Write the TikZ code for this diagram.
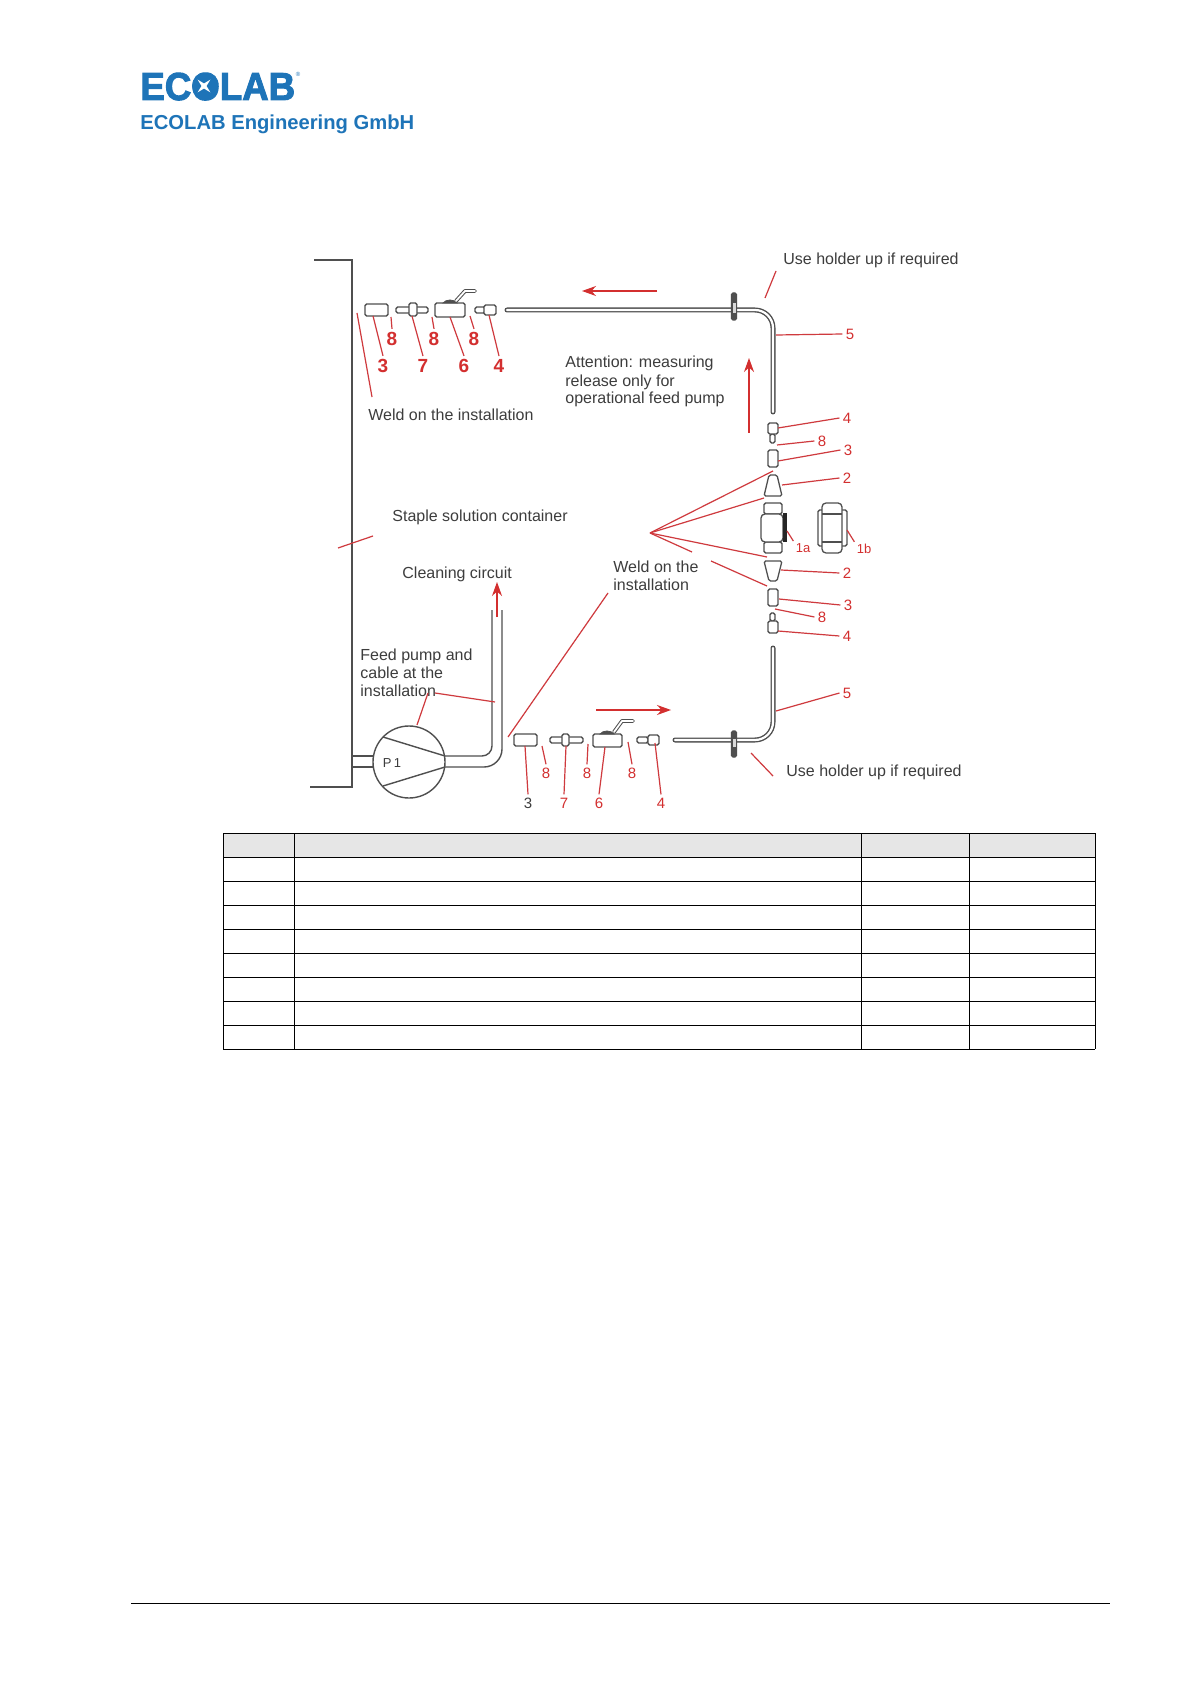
\documentclass[tikz,border=0pt]{standalone}
\usepackage{fontspec}
\setmainfont{Liberation Sans}
\newfontfamily\logofont[FakeBold=2.5]{Liberation Sans Bold}
\usepackage{amsmath}
\usetikzlibrary{positioning,arrows.meta}
\definecolor{logoblue}{HTML}{1E74B8}
\definecolor{markred}{HTML}{D32F2F}
\definecolor{leadred}{HTML}{CF3A3E}
\definecolor{partgray}{HTML}{4F4F4F}
\definecolor{textgray}{HTML}{3D3D3D}
\definecolor{headgray}{HTML}{E6E6E6}

\begin{document}
\begin{tikzpicture}[x=0.5pt,y=-0.5pt,font=\fontsize{8}{9}\selectfont]
\tikzstyle{plain line}=[draw=partgray,line width=0.7pt]
\tikzstyle{part}=[draw=partgray,line width=0.65pt,rounded corners=0.8pt,fill=white]
\tikzstyle{pipe}=[draw=partgray,line width=0.7pt,double=white,double distance=1.1pt,line cap=round]
\tikzstyle{handle}=[draw=partgray,line width=0.5pt,double=white,double distance=0.9pt,line cap=round,line join=round]
\tikzstyle{leader}=[draw=leadred,line width=0.6pt]
\tikzstyle{flow}=[draw=markred,line width=0.7pt,-{Stealth[length=7pt,width=5pt]}]
\tikzstyle{note}=[text=textgray,inner sep=0,anchor=base west,align=left]
\tikzstyle{big num}=[text=markred,font=\fontsize{9.5}{10}\selectfont\bfseries,inner sep=1.5pt]
\tikzstyle{small num}=[text=markred,font=\fontsize{7.5}{8}\selectfont,inner sep=1.5pt]
\tikzstyle{tiny num}=[text=markred,font=\fontsize{6.5}{7}\selectfont,inner sep=1pt]
\useasboundingbox[fill=white] (0,0) rectangle (1190,1684);

% logo
\fill[logoblue] (204,86) circle (12);
\node[text=logoblue,inner sep=0,anchor=base west,font=\fontsize{19.5}{20}\logofont] (logo) at (140,100) {\scalebox{.94}[1]{ECOLAB}};
\fill[white] (204,86) +(45:9) -- +(90:2.5) -- +(135:9) -- +(180:2.5) -- +(225:9) -- +(270:2.5) -- +(315:9) -- +(0:2.5) -- cycle;
\node[text=logoblue,inner sep=0,font=\fontsize{3}{3}\selectfont] (logoreg) at (298,74) {\textregistered};
\node[text=logoblue,inner sep=0,anchor=base west,font=\fontsize{10.1}{11}\selectfont\bfseries] (firm) at (140,130) {ECOLAB Engineering GmbH};

% container
\draw[plain line] (314,260) -- (352,260) -- (352,787) -- (310,787);

% top line
\draw[pipe,rounded corners=9pt] (507,310) -- (773,310) -- (773,412);
\draw[part,fill=partgray] (731.5,293) rectangle (736.5,320);
\fill[white!85!black] (733,303) rectangle (735.5,313);
\draw[part] (365,304) rectangle (388,316);
\draw[part] (396,307) rectangle (428,313);
\draw[part] (409,303) rectangle (417,316);
\draw[part] (435,303) rectangle (465,317);
\draw[partgray,fill=partgray,line width=0.4pt] (443,303) .. controls (446,299) and (454,299) .. (457,303) -- cycle;
\draw[handle] (456,301) -- (465,291) -- (475,291);
\draw[part] (475,307) rectangle (485,313);
\draw[part] (484,305) rectangle (496,315);

% right column
\draw[part] (770,434) rectangle (775,443);
\draw[part] (768,423) rectangle (778,434);
\draw[part] (768,450) rectangle (778,467);
\draw[part] (769,475) -- (777,475) -- (782,496) -- (764,496) -- cycle;
\draw[part] (764,503) rectangle (782,514);
\draw[part] (764,542) rectangle (782,553);
\draw[part,rounded corners=2pt] (761,514) rectangle (783,542);
\fill[black!85] (783,513) rectangle (787,542);
\draw[part] (818,510) rectangle (847,546);
\draw[part,rounded corners=2pt] (822,503) rectangle (842,553);
\draw[part] (822,514) -- (842,514) (822,542) -- (842,542);
\draw[part] (764,561) -- (782,561) -- (777,581) -- (769,581) -- cycle;
\draw[part] (768,589) rectangle (778,606);
\draw[part] (770,613) rectangle (775,621);
\draw[part] (768,621) rectangle (778,633);

% bottom line
\draw[pipe,rounded corners=9pt] (773,648) -- (773,740) -- (675,740);
\draw[part,fill=partgray] (731.5,731) rectangle (736.5,757);
\fill[white!85!black] (733,739) rectangle (735.5,747);
\draw[part] (514,734) rectangle (537,746);
\draw[part] (550,737) rectangle (583,743);
\draw[part] (562,734) rectangle (569,746);
\draw[part] (593,734) rectangle (622,747);
\draw[partgray,fill=partgray,line width=0.4pt] (600,734) .. controls (603,730) and (611,730) .. (614,734) -- cycle;
\draw[handle] (614,732) -- (622,721) -- (633,721);
\draw[part] (637,737) rectangle (648,743);
\draw[part] (648,735) rectangle (659,745);

% pump
\draw[plain line] (352,756) -- (373,756) (352,767) -- (373,767);
\draw[plain line,rounded corners=5pt] (445,756) -- (492,756) -- (492,610);
\draw[plain line,rounded corners=9pt] (445,767) -- (502,767) -- (502,610);
\node[circle,draw=partgray,line width=0.7pt,fill=white,minimum size=36pt,inner sep=0] (pump) at (409,762) {};
\draw[plain line] (383,737) -- (445,756) (383,786) -- (445,767);
\node[text=textgray,inner sep=0,font=\fontsize{6.5}{7}\selectfont] (pumplabel) at (392,763) {P\,1};

% texts
\node[note] (holdertop) at (783,265) {Use holder up if required};
\node[note] (holderbot) at (786,776) {Use holder up if required};
\node[note] (weldtop) at (368,421) {Weld on the installation};
\node[note] (attention) at (565,404) {Attention: measuring\\release only for\\operational feed pump};
\node[note] (staple) at (392,521) {Staple solution container};
\node[note] (cleaning) at (402,578) {Cleaning circuit};
\node[note] (feed) at (360,696) {Feed pump and\\cable at the\\installation};
\node[note] (weldbot) at (613,590) {Weld on the\\installation};

% numbers top row
\node[big num] (t3) at (383,366) {3};
\node[big num] (t8a) at (392,339) {8};
\node[big num] (t7) at (423,366) {7};
\node[big num] (t8b) at (434,339) {8};
\node[big num] (t6) at (464,366) {6};
\node[big num] (t8c) at (474,339) {8};
\node[big num] (t4) at (499,366) {4};

% numbers right column
\node[small num] (r5) at (850,334) {5};
\node[small num] (r4) at (847,418) {4};
\node[small num] (r8) at (822,441) {8};
\node[small num] (r3) at (848,450) {3};
\node[small num] (r2) at (847,478) {2};
\node[tiny num] (r1a) at (803,548) {1a};
\node[tiny num] (r1b) at (864,549) {1b};
\node[small num] (q2) at (847,573) {2};
\node[small num] (q3) at (848,605) {3};
\node[small num] (q8) at (822,617) {8};
\node[small num] (q4) at (847,636) {4};
\node[small num] (q5) at (847,693) {5};

% numbers bottom row
\node[small num,text=textgray] (b3) at (528,803) {3};
\node[small num] (b8a) at (546,773) {8};
\node[small num] (b7) at (564,803) {7};
\node[small num] (b8b) at (587,773) {8};
\node[small num] (b6) at (599,803) {6};
\node[small num] (b8c) at (632,773) {8};
\node[small num] (b4) at (661,803) {4};

% free ends of the leaders
\foreach \nam/\x/\y in {c3/373/316,c8a/391/317,c7/412/316,c8b/432/317,c6/450/317,c8c/470/316,c4/489/315,
weldA/357/313,weldB/372/397,stapleA/338/548,stapleB/373/536,holderA/776/271,holderB/765/298,
holderC/751/753,holderD/773/776,r5c/776/335,r4c/778/428,r8c/777/445,r3c/778/461,r2c/782/485,
r1ac/787/531,r1bc/847/530,q2c/781/570,q3c/779/599,q8c/775/609,q4c/778/631,q5c/776/711,
b3c/525/746,b8ac/542/746,b7c/566/746,b8bc/588/744,b6c/605/747,b8cc/628/742,b4c/655/743,
fan/650/533,fanA/773/471,fanB/764/498,fanC/767/557,fanD/692/552,fanE/711/561,fanF/767/586,
weldC/508/737,weldD/608/593,feedA/417/725,feedB/428/693,feedC/435/693,feedD/495/702,
flowA/657/291,flowB/582/291,flowC/749/433,flowD/749/358,flowE/596/710,flowF/671/710,flowG/497/617,flowH/497/582}
{\coordinate (\nam) at (\x,\y);}

% leaders
\foreach \p/\q in {c3/t3.north,c8a/t8a.north,c7/t7.north,c8b/t8b.north,c6/t6.north,c8c/t8c.north,c4/t4.north,
weldA/weldB,stapleA/stapleB,holderA/holderB,holderC/holderD,r5c/r5.west,r4c/r4.west,r8c/r8.west,r3c/r3.west,r2c/r2.west,
r1ac/r1a.north west,r1bc/r1b.north west,q2c/q2.west,q3c/q3.west,q8c/q8.west,q4c/q4.west,q5c/q5.west,
b3c/b3.north,b8ac/b8a.north,b7c/b7.north,b8bc/b8b.north,b6c/b6.north,b8cc/b8c.north,b4c/b4.north,
fan/fanA,fan/fanB,fan/fanC,fan/fanD,fanE/fanF,weldC/weldD,feedA/feedB,feedC/feedD}
{\draw[leader] (\p) -- (\q);}

% flow arrows
\foreach \p/\q in {flowA/flowB,flowC/flowD,flowE/flowF,flowG/flowH}
{\draw[flow] (\p) -- (\q);}

% table
\fill[headgray] (223,833) rectangle (1095,857);
\foreach \y in {833,857,881,905,929,953,977,1001,1025,1049}
{\draw[black,line width=0.5pt] (223,\y) -- (1095,\y);}
\foreach \x in {223,294,1095}
{\draw[black,line width=0.5pt] (\x,833) -- (\x,1049);}
\foreach \x in {861,969}
{\draw[black,line width=0.3pt] (\x,833) -- (\x,1049);}

% footer rule
\draw[black,line width=0.4pt] (131,1603) -- (1110,1603);
\end{tikzpicture}
\end{document}
